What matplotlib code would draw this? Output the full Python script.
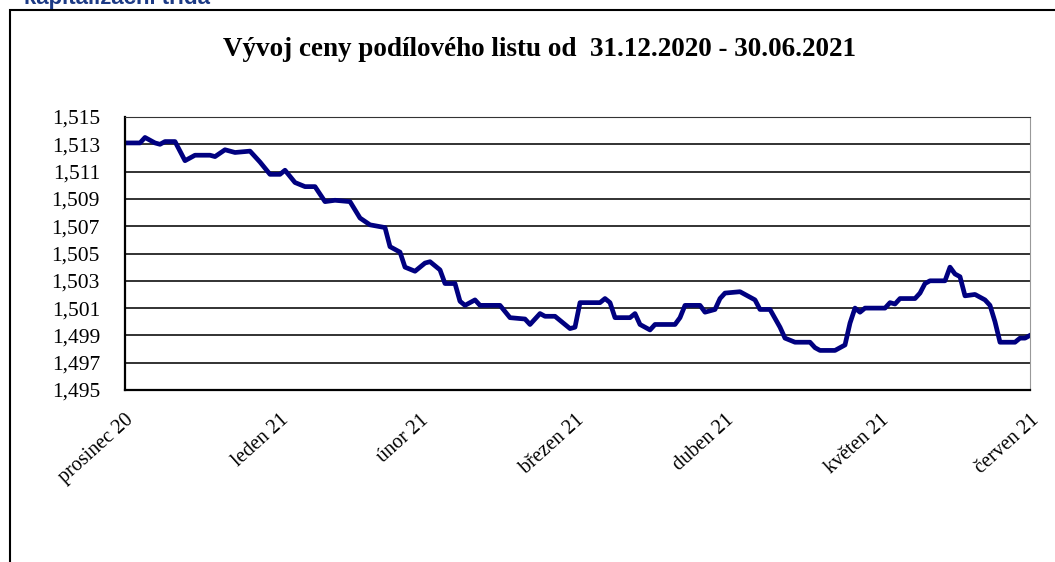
import numpy as np
import matplotlib.pyplot as plt
from matplotlib.patches import Rectangle

# dny od 31.12.2020 a hodnota podilového listu
den = [0, 3, 4, 6, 7, 8, 10, 12, 14, 17, 18, 20, 22, 25, 27, 29, 31, 32, 34, 36,
       38, 40, 42, 45, 47, 49, 52, 53, 55, 56, 58, 60, 61, 63, 64, 66, 67, 68, 70, 71,
       75, 77, 80, 81, 83, 84, 86, 89, 90, 91, 95, 96, 97, 98, 101, 102, 103, 105, 106, 110,
       111, 112, 115, 116, 118, 119, 120, 123, 124, 126, 127, 129, 131, 132, 134, 137, 138, 139, 142, 144,
       145, 146, 147, 148, 150, 152, 153, 154, 155, 158, 159, 160, 161, 164, 165, 166, 167, 168, 170, 172,
       173, 174, 175, 178, 179, 180, 181]
hodnota = [1.5131, 1.5131, 1.5135, 1.5131, 1.5130, 1.5132, 1.5132, 1.5118, 1.5122, 1.5122,
           1.5121, 1.5126, 1.5124, 1.5125, 1.5117, 1.5108, 1.5108, 1.5111, 1.5102, 1.5099,
           1.5099, 1.5088, 1.5089, 1.5088, 1.5076, 1.5071, 1.5069, 1.5055, 1.5051, 1.5040,
           1.5037, 1.5043, 1.5044, 1.5038, 1.5028, 1.5028, 1.5015, 1.5012, 1.5016, 1.5012,
           1.5012, 1.5003, 1.5002, 1.4998, 1.5006, 1.5004, 1.5004, 1.4995, 1.4996, 1.5014,
           1.5014, 1.5017, 1.5014, 1.5003, 1.5003, 1.5006, 1.4998, 1.4994, 1.4998, 1.4998,
           1.5003, 1.5012, 1.5012, 1.5007, 1.5009, 1.5017, 1.5021, 1.5022, 1.5020, 1.5016,
           1.5009, 1.5009, 1.4996, 1.4988, 1.4985, 1.4985, 1.4981, 1.4979, 1.4979, 1.4983,
           1.4999, 1.5010, 1.5007, 1.5010, 1.5010, 1.5010, 1.5014, 1.5013, 1.5017, 1.5017,
           1.5021, 1.5028, 1.5030, 1.5030, 1.5040, 1.5035, 1.5033, 1.5019, 1.5020, 1.5016,
           1.5012, 1.5000, 1.4985, 1.4985, 1.4988, 1.4988, 1.4990]

mesice = ["prosinec 20", "leden 21", "únor 21", "březen 21", "duben 21", "květen 21", "červen 21"]
konce_mesicu = [0, 31, 59, 90, 120, 151, 181]
y_ticky = [1.495, 1.497, 1.499, 1.501, 1.503, 1.505, 1.507, 1.509, 1.511, 1.513, 1.515]

fig = plt.figure(figsize=(10.55, 5.62), dpi=100)
# ramecek okolo celeho grafu (pravy a spodni okraj jsou mimo obrazek)
fig.patches.append(Rectangle((10 / 1055, -0.2), 1.2, 1.2 - 10 / 562,
                             transform=fig.transFigure, fill=False,
                             edgecolor="black", linewidth=1.5))
fig.text(24 / 1055, 1 - 4 / 562, "kapitalizační třída", fontsize=16, fontweight="bold",
         color="#1c3a85", family="Liberation Sans", va="baseline", ha="left")
fig.text(0.511, 1 - 49 / 562, "Vývoj ceny podílového listu od  31.12.2020 - 30.06.2021",
         fontsize=19.5, fontweight="bold", family="Liberation Serif", ha="center", va="center")

ax = fig.add_axes([125 / 1055, 1 - 390 / 562, (1030 - 125) / 1055, (390 - 117) / 562])
ax.plot(den, hodnota, color="#000080", linewidth=3.4, solid_joinstyle="round")
ax.set_xlim(0, 181)
ax.set_ylim(1.495, 1.515)
ax.set_yticks(y_ticky)
ax.set_yticklabels([f"{v:.3f}".replace(".", ",") for v in y_ticky],
                   family="Liberation Serif", fontsize=15.5)
ax.set_xticks(konce_mesicu)
ax.set_xticklabels(mesice, family="Liberation Serif", fontsize=14.5, rotation=42,
                   ha="right", va="top", rotation_mode="anchor")
ax.tick_params(axis="y", length=0, pad=18)
ax.tick_params(axis="x", length=0, pad=15)
ax.grid(axis="y", color="#222222", linewidth=1.3)
ax.set_axisbelow(True)
for s in ["left", "bottom"]:
    ax.spines[s].set_linewidth(1.6)
    ax.spines[s].set_color("black")
ax.spines["top"].set_color("#333333")
ax.spines["right"].set_color("#999999")

fig.savefig("out.png", dpi=100)
